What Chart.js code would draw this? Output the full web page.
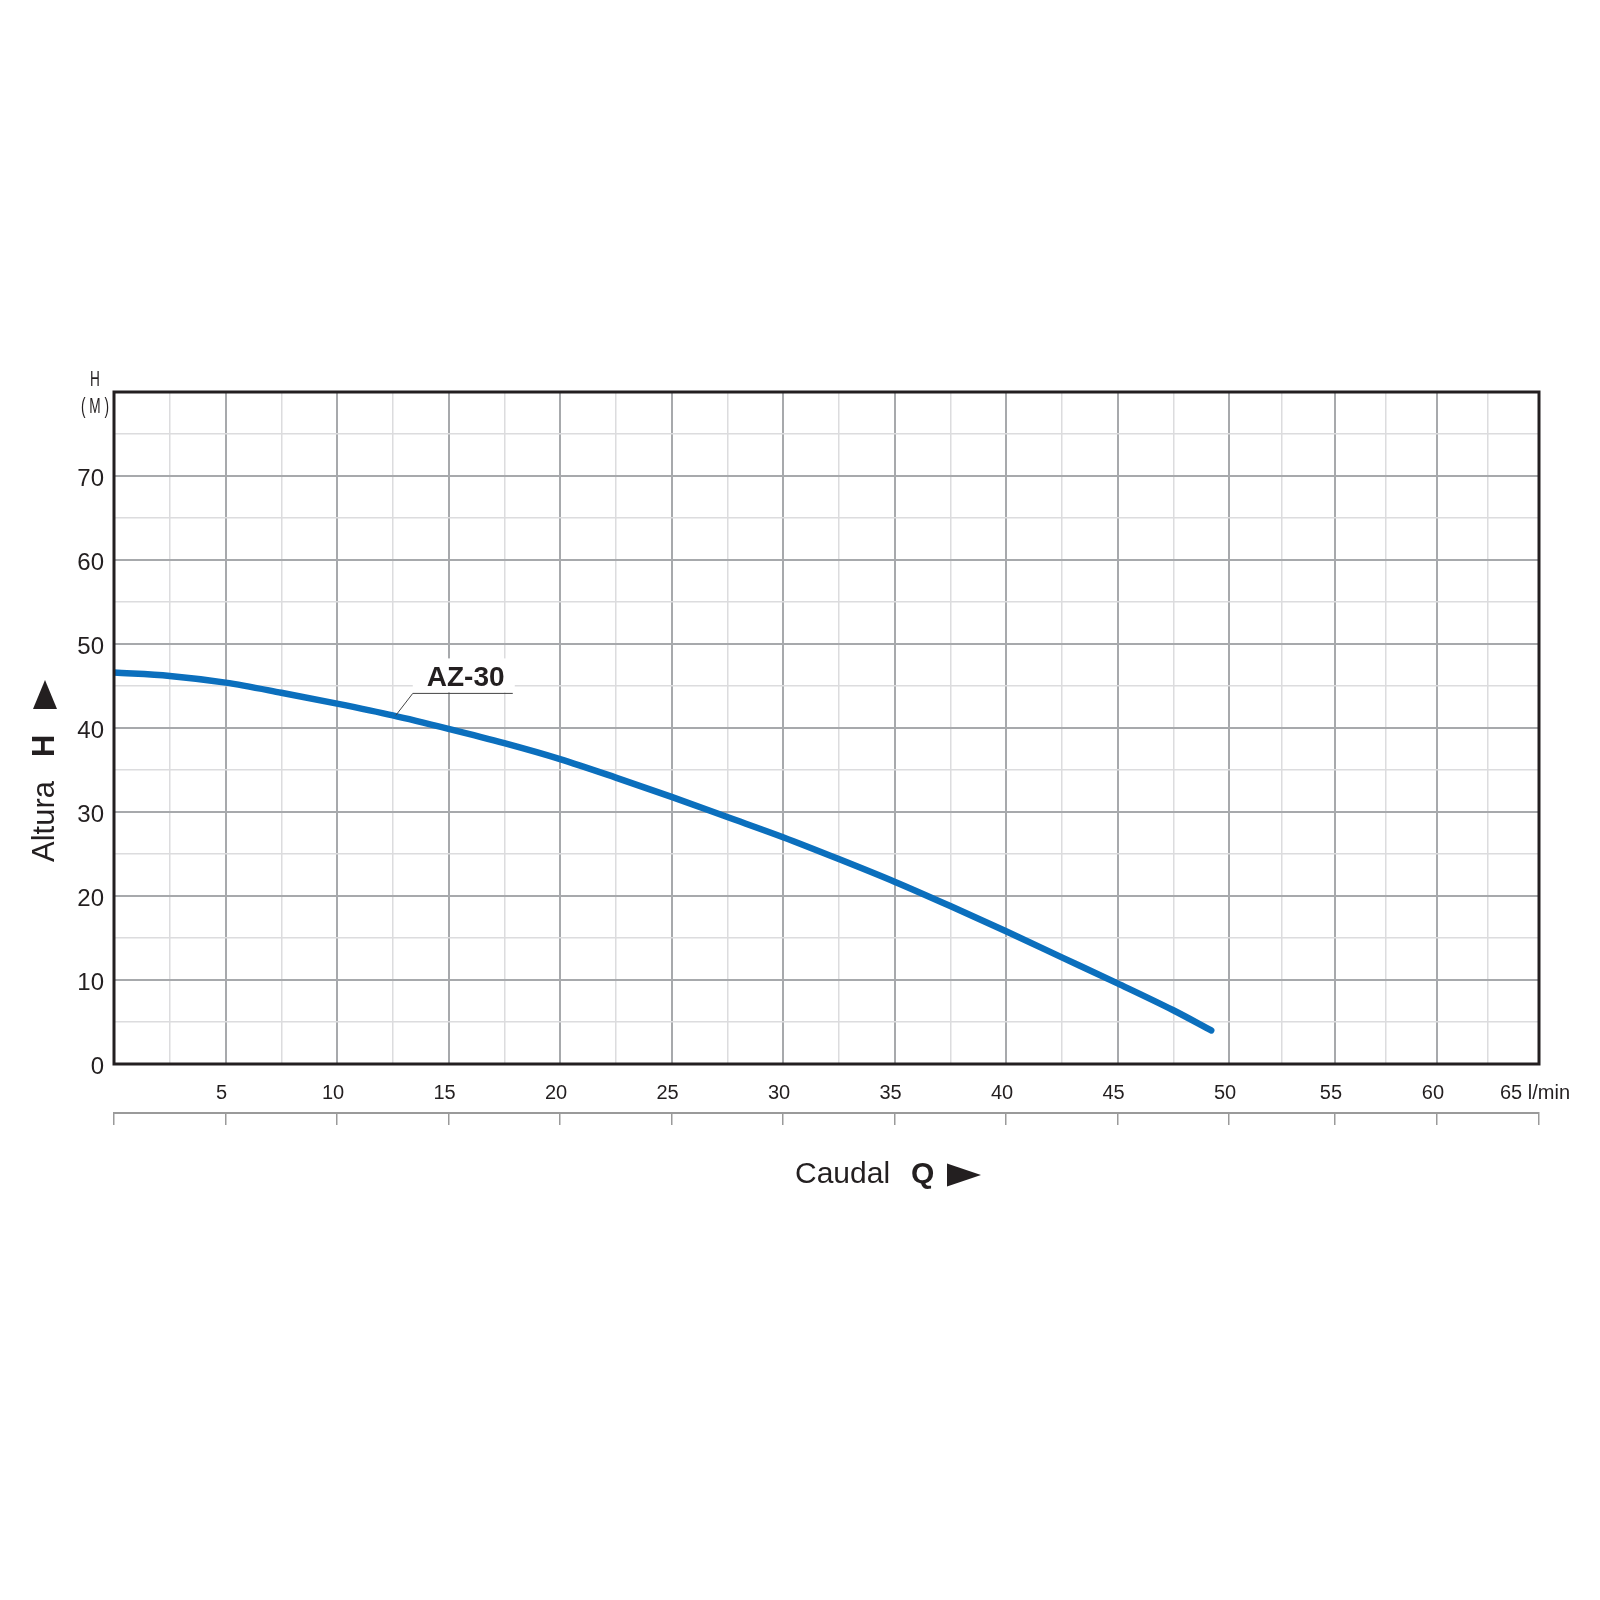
<!DOCTYPE html>
<html>
<head>
<meta charset="utf-8">
<title>AZ-30 curva H-Q</title>
<script src="https://cdn.jsdelivr.net/npm/chart.js@4.4.1/dist/chart.umd.min.js"></script>
<style>
  html, body { margin: 0; padding: 0; background: #fff; }
  #wrap { width: 1600px; height: 1600px; }
</style>
</head>
<body>
<div id="wrap"><canvas id="curveChart" width="1600" height="1600"></canvas></div>
<script>
/* ── AZ-30 pump curve: Altura H (m) vs Caudal Q (l/min) ── */

// ── Data ──
const seriesName = "AZ-30";
const flowQ = [0, 2.5, 5, 7.5, 10, 12.5, 15, 17.5, 20, 22.5, 25, 27.5, 30, 32.5, 35, 37.5, 40, 42.5, 45, 47.5, 49.2];
const headH = [46.6, 46.2, 45.4, 44.2, 42.9, 41.5, 39.9, 38.2, 36.3, 34.1, 31.8, 29.4, 27.0, 24.4, 21.7, 18.8, 15.8, 12.7, 9.6, 6.4, 4.0];
const flowLabels = [5, 10, 15, 20, 25, 30, 35, 40, 45, 50, 55, 60, 65];
const headLabels = [0, 10, 20, 30, 40, 50, 60, 70];
const flowUnit = "l/min";
const headUnit = "(M)";

// ── Colours ──
const INK = "#231f20";
const CURVE = "#0b6fbd";
const GRID_MAJOR = "#a7a9ac";
const GRID_MINOR = "#dcdcde";
const RULER = "#9a9a9a";
const FONT = "'Liberation Sans', Arial, Helvetica, sans-serif";

Chart.defaults.font.family = FONT;
Chart.defaults.color = INK;

// ── Flow axis ──
// On the sheet the Q grid is even up to 50 l/min, the last three steps are narrower.
const FLOW_KNOTS = [0, 50, 55, 60, 65];
const FLOW_FRAC = [0, 0.7825, 0.8568, 0.9284, 1];

function flowToDecimal(v) {
  let i = 1;
  while (i < FLOW_KNOTS.length - 1 && v > FLOW_KNOTS[i]) i++;
  const k0 = FLOW_KNOTS[i - 1], k1 = FLOW_KNOTS[i];
  const f0 = FLOW_FRAC[i - 1], f1 = FLOW_FRAC[i];
  return f0 + ((v - k0) / (k1 - k0)) * (f1 - f0);
}

function decimalToFlow(d) {
  let i = 1;
  while (i < FLOW_FRAC.length - 1 && d > FLOW_FRAC[i]) i++;
  const k0 = FLOW_KNOTS[i - 1], k1 = FLOW_KNOTS[i];
  const f0 = FLOW_FRAC[i - 1], f1 = FLOW_FRAC[i];
  return k0 + ((d - f0) / (f1 - f0)) * (k1 - k0);
}

class FlowScale extends Chart.LinearScale {
  getPixelForValue(value) {
    if (value === null || isNaN(value)) return NaN;
    return this.getPixelForDecimal(flowToDecimal(value));
  }
  getValueForPixel(pixel) {
    return decimalToFlow(this.getDecimalForPixel(pixel));
  }
}
FlowScale.id = "flow";
FlowScale.defaults = {};
Chart.register(FlowScale);

// ── Extra drawing: frame, series label, axis titles ──
function triangle(ctx, x1, y1, x2, y2, x3, y3) {
  ctx.beginPath();
  ctx.moveTo(x1, y1);
  ctx.lineTo(x2, y2);
  ctx.lineTo(x3, y3);
  ctx.closePath();
  ctx.fill();
}

const sheetDecor = {
  id: "sheetDecor",
  afterDatasetsDraw(chart) {
    const { ctx, chartArea: a } = chart;
    ctx.save();

    // frame round the plot
    ctx.strokeStyle = INK;
    ctx.lineWidth = 3;
    ctx.strokeRect(a.left, a.top, a.width, a.height);

    // series label with leader line, anchored on the curve point at Q = 12.5
    const pt = chart.getDatasetMeta(0).data[5];
    const cx = pt.x + 20, cy = pt.y - 22;
    ctx.fillStyle = "#fff";
    ctx.fillRect(cx, cy - 35, 102, 34);
    ctx.strokeStyle = "#444";
    ctx.lineWidth = 1;
    ctx.beginPath();
    ctx.moveTo(pt.x + 3, pt.y);
    ctx.lineTo(cx, cy);
    ctx.lineTo(cx + 100, cy);
    ctx.stroke();
    ctx.fillStyle = INK;
    ctx.font = "bold 28px " + FONT;
    ctx.textAlign = "left";
    ctx.textBaseline = "middle";
    ctx.fillText(seriesName, cx + 14, cy - 15);

    ctx.restore();
  },
  afterDraw(chart) {
    const { ctx, chartArea: a } = chart;
    ctx.save();
    ctx.fillStyle = INK;
    ctx.textAlign = "left";
    ctx.textBaseline = "middle";

    // y title, reading bottom to top: Altura  H  ▲
    ctx.save();
    ctx.translate(a.left - 69, a.bottom - 202);
    ctx.rotate(-Math.PI / 2);
    ctx.font = "31px " + FONT;
    ctx.fillText("Altura", 0, 0);
    ctx.font = "bold 31px " + FONT;
    ctx.fillText("H", 105, 0);
    triangle(ctx, 153, -12, 153, 12, 182, 0);
    ctx.restore();

    // unit over the y axis, condensed
    ctx.save();
    ctx.translate(a.left - 19, a.top);
    ctx.scale(0.62, 1);
    ctx.textAlign = "center";
    ctx.font = "22px " + FONT;
    ctx.fillText("H", 0, -12);
    ctx.fillText(headUnit.split("").join(" "), 0, 15);
    ctx.restore();

    // x title: Caudal  Q  ►
    const ty = a.bottom + 111;
    ctx.font = "30px " + FONT;
    ctx.fillText("Caudal", a.left + 681, ty);
    ctx.font = "bold 30px " + FONT;
    ctx.fillText("Q", a.left + 797, ty);
    triangle(ctx, a.left + 833, ty - 11.5, a.left + 833, ty + 11.5, a.left + 867, ty);

    ctx.restore();
  },
};

// ── Chart ──
const points = flowQ.map((q, i) => ({ x: q, y: headH[i] }));

new Chart(document.getElementById("curveChart"), {
  type: "line",
  data: {
    datasets: [
      {
        label: seriesName,
        data: points,
        borderColor: CURVE,
        borderWidth: 6.5,
        borderCapStyle: "round",
        borderJoinStyle: "round",
        cubicInterpolationMode: "monotone",
        pointRadius: 0,
        fill: false,
      },
    ],
  },
  options: {
    responsive: false,
    animation: false,
    events: [],
    layout: { padding: { top: 392, right: 61, bottom: 475, left: 0 } },
    plugins: {
      legend: { display: false },
      tooltip: { enabled: false },
    },
    scales: {
      x: {
        type: "flow",
        position: "bottom",
        weight: 0,
        min: 0,
        max: 65,
        border: { display: false },
        grid: {
          drawTicks: false,
          color: (c) => (c.tick && c.tick.value % 5 === 0 ? GRID_MAJOR : GRID_MINOR),
          lineWidth: (c) => (c.tick && c.tick.value % 5 === 0 ? 2 : 1.5),
        },
        ticks: {
          stepSize: 2.5,
          maxTicksLimit: 40,
          autoSkip: false,
          maxRotation: 0,
          padding: 17,
          labelOffset: -4,
          font: { size: 20 },
          color: INK,
          callback: (v) => {
            if (!flowLabels.includes(v)) return "";
            return v === flowLabels[flowLabels.length - 1] ? v + " " + flowUnit : String(v);
          },
        },
        afterFit: (s) => { s.height = 49; },
      },
      xRuler: {
        type: "flow",
        position: "bottom",
        weight: 1,
        min: 0,
        max: 65,
        border: { display: true, color: RULER, width: 2 },
        grid: {
          drawOnChartArea: false,
          drawTicks: true,
          tickLength: 12,
          color: RULER,
          lineWidth: 1.5,
        },
        ticks: { display: false, stepSize: 5, maxTicksLimit: 40, autoSkip: false },
        afterFit: (s) => { s.height = 12; },
      },
      y: {
        type: "linear",
        position: "left",
        min: 0,
        max: 80,
        border: { display: false },
        grid: {
          drawTicks: false,
          color: (c) => (c.tick && c.tick.value % 10 === 0 ? GRID_MAJOR : GRID_MINOR),
          lineWidth: (c) => (c.tick && c.tick.value % 10 === 0 ? 2 : 1.5),
        },
        ticks: {
          stepSize: 5,
          autoSkip: false,
          padding: 10,
          labelOffset: 3,
          font: { size: 24 },
          color: INK,
          callback: (v) => (headLabels.includes(v) ? String(v) : ""),
        },
        afterFit: (s) => { s.width = 114; },
      },
    },
  },
  plugins: [sheetDecor],
});
</script>
</body>
</html>
